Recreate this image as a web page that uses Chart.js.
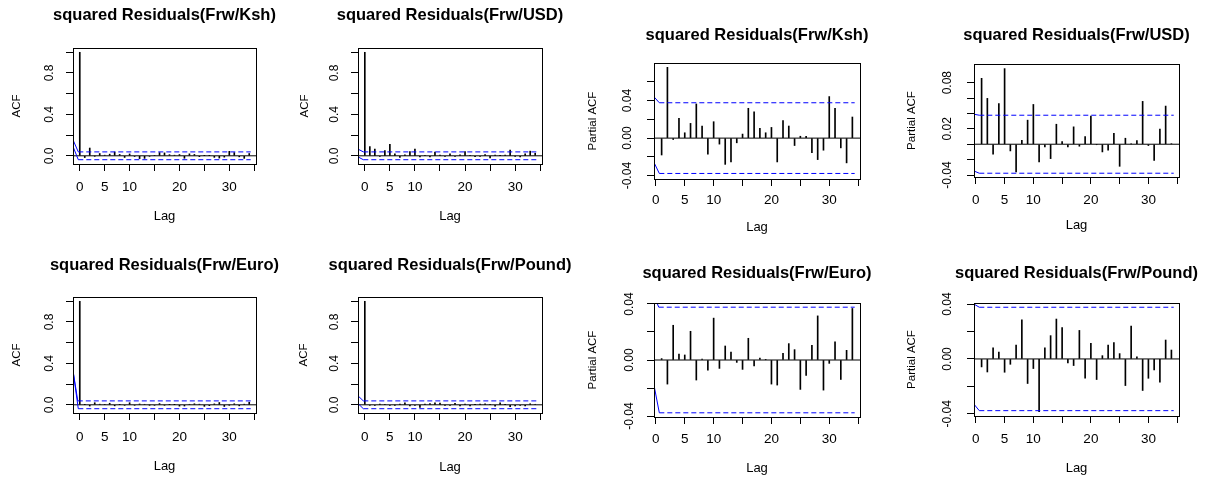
<!DOCTYPE html>
<html>
<head>
<meta charset="utf-8">
<script src="https://cdn.jsdelivr.net/npm/chart.js@4.4.1/dist/chart.umd.min.js"></script>
<style>
body { margin: 0; background: #fff; width: 1217px; height: 478px; overflow: hidden; position: relative; }
canvas { position: absolute; }
</style>
</head>
<body>
<script>
// lags
var lagsAcf = [0, 1, 2, 3, 4, 5, 6, 7, 8, 9, 10, 11, 12, 13, 14, 15, 16, 17, 18, 19, 20, 21, 22, 23, 24, 25, 26, 27, 28, 29, 30, 31, 32, 33, 34];
var lagsPacf = [1, 2, 3, 4, 5, 6, 7, 8, 9, 10, 11, 12, 13, 14, 15, 16, 17, 18, 19, 20, 21, 22, 23, 24, 25, 26, 27, 28, 29, 30, 31, 32, 33, 34];

// ACF of squared residuals (lag 0..34)
var acfKsh = [1, -0.017, 0.075, -0.002, 0.022, 0.006, 0.016, 0.037, 0.013, -0.016, 0.018, -0.006, -0.027, -0.025, -0.005, 0.004, 0.031, 0.028, 0.011, 0.006, 0.012, -0.024, 0.019, 0.013, -0.008, 0.002, 0.002, -0.015, -0.022, -0.013, 0.043, 0.031, -0.01, -0.025, 0.022];
var acfUsd = [1, 0.089, 0.064, -0.005, 0.051, 0.112, 0.02, -0.015, 0.01, 0.04, 0.065, -0.01, 0.005, -0.01, 0.035, 0.008, -0.005, 0.02, -0.004, 0.01, 0.04, 0.004, -0.008, -0.006, 0.012, -0.02, 0.006, 0.002, 0.006, 0.055, -0.002, -0.012, 0.018, 0.045, 0.025];
var acfEuro = [1, 0.002, -0.012, 0.02, 0.006, 0.004, 0.015, -0.01, 0.002, -0.005, 0.02, -0.004, 0.008, 0.005, -0.002, -0.005, 0.012, -0.003, 0.002, 0.001, -0.013, -0.012, 0.005, 0.01, 0.006, -0.015, -0.008, 0.009, 0.022, -0.016, -0.002, 0.01, -0.01, 0.006, 0.025];
var acfPound = [1, -0.004, -0.007, 0.006, 0.004, -0.007, -0.003, 0.008, 0.02, -0.012, -0.005, -0.025, 0.006, 0.013, 0.02, 0.016, -0.002, -0.004, 0.015, -0.01, 0.008, -0.011, 0.002, 0.008, 0.009, 0.003, -0.014, 0.018, 0.001, -0.017, -0.01, -0.006, -0.012, 0.01, 0.005];

// partial ACF (lag 1..34)
var pacfKsh = [-0.018, 0.0755, -0.0015, 0.021, 0.0057, 0.0157, 0.0364, 0.0129, -0.017, 0.0175, -0.0064, -0.028, -0.0254, -0.005, 0.0043, 0.0318, 0.028, 0.0104, 0.0057, 0.0114, -0.0254, 0.0186, 0.0129, -0.0079, 0.002, 0.002, -0.0154, -0.0229, -0.0129, 0.0443, 0.0318, -0.0104, -0.0264, 0.0225];
var pacfUsd = [0.0857, 0.0596, -0.013, 0.053, 0.0983, -0.0087, -0.036, 0.0052, 0.0313, 0.0517, -0.023, -0.0035, -0.0187, 0.026, 0.0035, -0.0035, 0.0226, -0.0026, 0.01, 0.0365, -0.0005, -0.01, -0.0078, 0.0143, -0.0287, 0.0078, 0.0003, 0.0048, 0.0557, -0.0017, -0.0209, 0.0196, 0.0496, 0.0005];
var pacfEuro = [0.001, -0.0172, 0.0248, 0.0043, 0.0036, 0.0205, -0.0143, 0.0007, -0.0072, 0.0299, -0.006, 0.01, 0.0057, -0.0017, -0.0067, 0.0155, -0.0043, 0.0014, 0.0002, -0.0172, -0.0179, 0.0048, 0.0117, 0.0074, -0.021, -0.011, 0.0105, 0.0315, -0.0215, -0.0024, 0.0129, -0.0139, 0.0069, 0.0368];
var pacfPound = [-0.0058, -0.0095, 0.0082, 0.0051, -0.0097, -0.0039, 0.0102, 0.0286, -0.0179, -0.007, -0.0385, 0.0082, 0.017, 0.0291, 0.0228, -0.0029, -0.0048, 0.0208, -0.0141, 0.0114, -0.015, 0.0024, 0.0102, 0.0119, 0.0039, -0.0194, 0.024, 0.0015, -0.023, -0.0141, -0.008, -0.017, 0.0138, 0.0065];

// blue bound lines [lag, value]
var ciKshAcf = [[[-1.36, 0.154], [-0.3, 0.0377], [34.3, 0.0377]], [[-1.36, 0.09], [-0.3, -0.0377], [34.3, -0.0377]]];
var ciUsdAcf = [[[-1.36, 0.065], [-0.3, 0.0377], [34.3, 0.0377]], [[-1.36, -0.01], [-0.3, -0.0377], [34.3, -0.0377]]];
var ciEuroAcf = [[[-1.36, 0.33], [-0.4, 0.0377], [34.3, 0.0377]], [[-1.36, 0.33], [-0.3, -0.0377], [34.3, -0.0377]]];
var ciPoundAcf = [[[-1.36, 0.087], [-0.3, 0.0377], [34.3, 0.0377]], [[-1.36, 0.013], [-0.3, -0.0377], [34.3, -0.0377]]];
var ciKshPacf = [[[-0.32, 0.044], [0.6, 0.0377], [34.4, 0.0377]], [[-0.32, -0.026], [0.6, -0.0377], [34.4, -0.0377]]];
var ciUsdPacf = [[[-0.32, 0.039], [0.6, 0.0377], [34.4, 0.0377]], [[-0.32, -0.0348], [0.6, -0.0377], [34.4, -0.0377]]];
var ciEuroPacf = [[[-0.32, 0.046], [0.5, 0.0377], [34.4, 0.0377]], [[-0.32, -0.018], [0.6, -0.0377], [34.4, -0.0377]]];
var ciPoundPacf = [[[-0.32, 0.040], [0.6, 0.0377], [34.4, 0.0377]], [[-0.32, -0.033], [0.6, -0.0377], [34.4, -0.0377]]];

// tick values and labels
var xTicks = [0, 5, 10, 15, 20, 25, 30, 35];
var xLabels = ['0', '5', '10', '', '20', '', '30', ''];
var yTicksAcf = [0, 0.2, 0.4, 0.6, 0.8, 1.0];
var yLabelsAcf = ['0.0', '', '0.4', '', '0.8', ''];
var yTicksKsh = [-0.04, -0.02, 0, 0.02, 0.04, 0.06];
var yLabelsKsh = ['-0.04', '', '0.00', '', '0.04', ''];
var yTicksUsd = [-0.04, -0.02, 0, 0.02, 0.04, 0.06, 0.08];
var yLabelsUsd = ['-0.04', '', '', '0.02', '', '', '0.08'];
var yTicksSmall = [-0.04, -0.02, 0, 0.02, 0.04];
var yLabelsSmall = ['-0.04', '', '0.00', '', '0.04'];

var FONT = '"Liberation Sans", Arial, Helvetica, sans-serif';
var SIDE = 70, BOTTOM = 62, TICK = 7;
var TITLE_PX = 16.5, TICK_PX = 13.5, YTICK_PX = 12, LAB_PX = 13, YLAB_PX = 11.5;

Chart.defaults.font.family = FONT;
Chart.defaults.color = '#000';

function widest(labels, size) {
    var c = document.createElement('canvas').getContext('2d');
    c.font = size + 'px ' + FONT;
    var w = 0;
    labels.forEach(function(s) { w = Math.max(w, c.measureText(s).width); });
    return w;
}

var boxPlugin = {
    id: 'rbox',
    afterDatasetsDraw: function(chart) {
        var a = chart.chartArea, ctx = chart.ctx;
        ctx.save();
        ctx.strokeStyle = '#000';
        ctx.lineWidth = 1;
        ctx.strokeRect(Math.round(a.left) + 0.5, Math.round(a.top) + 0.5, Math.round(a.right - a.left), Math.round(a.bottom - a.top));
        ctx.restore();
    }
};

function ciSet(pts) {
    return {
        type: 'line',
        data: pts.map(function(p) { return {x: p[0], y: p[1]}; }),
        borderColor: '#0000ff',
        borderWidth: 1,
        borderDash: [],
        segment: { borderDash: function(ctx) { return ctx.p0DataIndex >= 1 ? [5, 3] : undefined; } },
        pointRadius: 0,
        fill: false,
        tension: 0,
        order: 0
    };
}

function drawPanel(p) {
    var titleBlock = p.titleOff + 14;
    var cv = document.createElement('canvas');
    cv.width = SIDE * 2 + p.w;
    cv.height = titleBlock + p.h + BOTTOM;
    cv.style.left = (p.left - SIDE) + 'px';
    cv.style.top = (p.top - titleBlock) + 'px';
    document.body.appendChild(cv);

    var yPad = p.yTickOff - TICK - widest(p.yLabels, YTICK_PX) / 2;
    var xPad = p.xTickOff - TICK - TICK_PX * 1.2 / 2;

    new Chart(cv, {
        type: 'bar',
        data: {
            datasets: [{
                data: p.lags.map(function(l, i) { return {x: l, y: p.vals[i]}; }),
                backgroundColor: '#000',
                barThickness: 1,
                order: 2
            }, {
                type: 'line',
                data: [{x: p.xMin, y: 0}, {x: p.xMax, y: 0}],
                borderColor: '#000',
                borderWidth: 1,
                pointRadius: 0,
                order: 1
            }, ciSet(p.ci[0]), ciSet(p.ci[1])]
        },
        options: {
            responsive: false,
            animation: false,
            events: [],
            layout: { padding: 0 },
            plugins: {
                legend: { display: false },
                tooltip: { enabled: false },
                title: {
                    display: true,
                    text: p.title,
                    color: '#000',
                    font: { size: TITLE_PX, weight: 'bold', lineHeight: 20 / TITLE_PX },
                    padding: { top: 4, bottom: p.titleOff - 10 }
                }
            },
            scales: {
                x: {
                    type: 'linear',
                    min: p.xMin, max: p.xMax,
                    offset: false,
                    afterBuildTicks: function(s) { s.ticks = xTicks.map(function(v) { return {value: v}; }); },
                    afterFit: function(s) { s.height = BOTTOM; },
                    ticks: {
                        autoSkip: false, maxRotation: 0, padding: xPad,
                        font: { size: TICK_PX },
                        callback: function(v, i) { return xLabels[i]; }
                    },
                    grid: { offset: false, drawOnChartArea: false, tickLength: TICK, color: '#000' },
                    border: { color: '#000' },
                    title: {
                        display: true, text: 'Lag', font: { size: LAB_PX },
                        padding: { top: 0, bottom: BOTTOM - p.lagOff - LAB_PX * 1.2 / 2 }
                    }
                },
                y: {
                    position: 'left',
                    min: p.yMin, max: p.yMax,
                    afterBuildTicks: function(s) { s.ticks = p.yTicks.map(function(v) { return {value: v}; }); },
                    afterFit: function(s) { s.width = SIDE; },
                    ticks: {
                        autoSkip: false, minRotation: 90, maxRotation: 90, crossAlign: 'center',
                        padding: yPad, font: { size: YTICK_PX },
                        callback: function(v, i) { return p.yLabels[i]; }
                    },
                    grid: { drawOnChartArea: false, tickLength: TICK, color: '#000' },
                    border: { color: '#000' },
                    title: {
                        display: true, text: p.ytitle, font: { size: YLAB_PX },
                        padding: { top: SIDE - p.yTitleOff - YLAB_PX * 1.2 / 2, bottom: 0 }
                    }
                },
                y2: {
                    position: 'right',
                    afterFit: function(s) { s.width = SIDE; },
                    ticks: { display: false },
                    grid: { display: false },
                    border: { display: false }
                }
            }
        },
        plugins: [boxPlugin]
    });
}

var acfRange = [-1.36, 35.36], pacfRange = [-0.32, 35.32];

var panels = [
    {title: 'squared Residuals(Frw/Ksh)', ytitle: 'ACF', left: 73, top: 48, w: 183, h: 116,
     lags: lagsAcf, vals: acfKsh, ci: ciKshAcf, xMin: acfRange[0], xMax: acfRange[1], yMin: -0.0792, yMax: 1.0415,
     yTicks: yTicksAcf, yLabels: yLabelsAcf, titleOff: 33, lagOff: 52, yTitleOff: 56, yTickOff: 23, xTickOff: 23},
    {title: 'squared Residuals(Frw/USD)', ytitle: 'ACF', left: 358, top: 48, w: 184, h: 116,
     lags: lagsAcf, vals: acfUsd, ci: ciUsdAcf, xMin: acfRange[0], xMax: acfRange[1], yMin: -0.0792, yMax: 1.0415,
     yTicks: yTicksAcf, yLabels: yLabelsAcf, titleOff: 33, lagOff: 52, yTitleOff: 53, yTickOff: 23, xTickOff: 23},
    {title: 'squared Residuals(Frw/Ksh)', ytitle: 'Partial ACF', left: 654, top: 63, w: 206, h: 116,
     lags: lagsPacf, vals: pacfKsh, ci: ciKshPacf, xMin: pacfRange[0], xMax: pacfRange[1], yMin: -0.0436, yMax: 0.0801,
     yTicks: yTicksKsh, yLabels: yLabelsKsh, titleOff: 28, lagOff: 48, yTitleOff: 61, yTickOff: 26, xTickOff: 21},
    {title: 'squared Residuals(Frw/USD)', ytitle: 'Partial ACF', left: 974, top: 64, w: 205, h: 113,
     lags: lagsPacf, vals: pacfUsd, ci: ciUsdPacf, xMin: pacfRange[0], xMax: pacfRange[1], yMin: -0.0426, yMax: 0.1043,
     yTicks: yTicksUsd, yLabels: yLabelsUsd, titleOff: 29, lagOff: 48, yTitleOff: 62, yTickOff: 26, xTickOff: 23},
    {title: 'squared Residuals(Frw/Euro)', ytitle: 'ACF', left: 73, top: 297, w: 183, h: 116,
     lags: lagsAcf, vals: acfEuro, ci: ciEuroAcf, xMin: acfRange[0], xMax: acfRange[1], yMin: -0.0792, yMax: 1.0415,
     yTicks: yTicksAcf, yLabels: yLabelsAcf, titleOff: 32, lagOff: 53, yTitleOff: 56, yTickOff: 23, xTickOff: 24},
    {title: 'squared Residuals(Frw/Pound)', ytitle: 'ACF', left: 358, top: 297, w: 184, h: 116,
     lags: lagsAcf, vals: acfPound, ci: ciPoundAcf, xMin: acfRange[0], xMax: acfRange[1], yMin: -0.0792, yMax: 1.0415,
     yTicks: yTicksAcf, yLabels: yLabelsAcf, titleOff: 32, lagOff: 54, yTitleOff: 54, yTickOff: 23, xTickOff: 24},
    {title: 'squared Residuals(Frw/Euro)', ytitle: 'Partial ACF', left: 654, top: 303, w: 206, h: 114,
     lags: lagsPacf, vals: pacfEuro, ci: ciEuroPacf, xMin: pacfRange[0], xMax: pacfRange[1], yMin: -0.0407, yMax: 0.0407,
     yTicks: yTicksSmall, yLabels: yLabelsSmall, titleOff: 30, lagOff: 51, yTitleOff: 61, yTickOff: 24, xTickOff: 22},
    {title: 'squared Residuals(Frw/Pound)', ytitle: 'Partial ACF', left: 974, top: 303, w: 205, h: 113,
     lags: lagsPacf, vals: pacfPound, ci: ciPoundPacf, xMin: pacfRange[0], xMax: pacfRange[1], yMin: -0.0416, yMax: 0.0408,
     yTicks: yTicksSmall, yLabels: yLabelsSmall, titleOff: 30, lagOff: 52, yTitleOff: 62, yTickOff: 26, xTickOff: 23}
];

panels.forEach(drawPanel);
</script>
</body>
</html>
